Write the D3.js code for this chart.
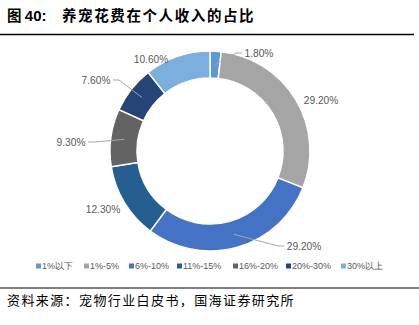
<!DOCTYPE html>
<html>
<head>
<meta charset="utf-8">
<script src="https://cdn.jsdelivr.net/npm/d3@7"></script>
<style>
  html, body { margin: 0; padding: 0; background: #fff; }
  svg { display: block; }
</style>
</head>
<body>
<svg id="chart" width="419" height="325"></svg>
<script>
// Share of personal income spent on pets
const categories = ["1%以下", "1%-5%", "6%-10%", "11%-15%", "16%-20%", "20%-30%", "30%以上"];
const shares = [1.8, 29.2, 29.2, 12.3, 9.3, 7.6, 10.6];
const valueLabels = ["1.80%", "29.20%", "29.20%", "12.30%", "9.30%", "7.60%", "10.60%"];
const colors = ["#5B9BD5", "#A5A5A5", "#4472C4", "#255E91", "#636363", "#264478", "#7CAFDD"];

// label placement relative to the ring centre, and whether a leader line is drawn
const labelOffsets = [[49, -98], [111, -51], [94, 95], [-107, 58], [-139, -9], [-114, -71], [-59, -92]];
const hasLeader = [true, false, true, false, true, true, false];

const svg = d3.select("#chart");
const W = 419;
const cx = 210, cy = 151, rOuter = 100, rInner = 73;
const labelFont = "'Liberation Sans', Arial, sans-serif";
const cjkFont = "'Noto Sans CJK SC', 'Noto Sans', sans-serif";

// title
const title = svg.append("text")
  .attr("x", 7).attr("y", 21)
  .attr("font-family", cjkFont).attr("font-size", 14.5).attr("font-weight", 700)
  .attr("fill", "#000");
title.append("tspan").text("图 ");
title.append("tspan").attr("font-family", "'Liberation Sans', Arial, sans-serif").attr("font-size", 15).text("40:");
title.append("tspan").attr("x", 62).attr("letter-spacing", 1.6).text("养宠花费在个人收入的占比");

svg.append("line").attr("x1", 0).attr("x2", 414).attr("y1", 34.5).attr("y2", 34.5)
  .attr("stroke", "#000").attr("stroke-width", 1.5);

// donut
const pie = d3.pie().sort(null).value(d => d)(shares);
const arc = d3.arc().innerRadius(rInner).outerRadius(rOuter);
const g = svg.append("g").attr("transform", `translate(${cx},${cy})`);

g.selectAll("path.slice").data(pie).join("path")
  .attr("class", "slice")
  .attr("d", arc)
  .attr("fill", (d, i) => colors[i])
  .attr("stroke", "#fff").attr("stroke-width", 1.5);

// leader lines from slice centroid towards the label
const textW = s => s.length * 5.6;
pie.forEach((d, i) => {
  if (!hasLeader[i]) return;
  const [px, py] = arc.centroid(d);
  const [lx, ly] = labelOffsets[i];
  const half = textW(valueLabels[i]) / 2;
  const right = lx > 0;
  const edge = right ? lx - half - 3 : lx + half + 3;
  const knee = right ? edge - 6 : edge + 6;
  g.append("path")
    .attr("d", d3.line()([[px, py], [knee, ly], [edge, ly]]))
    .attr("fill", "none").attr("stroke", "#A6A6A6").attr("stroke-width", 1);
});

g.selectAll("text.val").data(pie).join("text")
  .attr("class", "val")
  .attr("x", (d, i) => labelOffsets[i][0])
  .attr("y", (d, i) => labelOffsets[i][1])
  .attr("text-anchor", "middle").attr("dominant-baseline", "central")
  .attr("font-family", labelFont).attr("font-size", 10.2)
  .attr("fill", "#595959")
  .text((d, i) => valueLabels[i]);

// legend
const legendX = [36, 84, 129, 177, 233, 286, 341];
const legend = svg.append("g").attr("transform", "translate(0,266)");
categories.forEach((c, i) => {
  legend.append("rect").attr("x", legendX[i]).attr("y", -2.5).attr("width", 5).attr("height", 5)
    .attr("fill", colors[i]);
  legend.append("text").attr("x", legendX[i] + 6).attr("y", 0)
    .attr("dominant-baseline", "central")
    .attr("font-family", labelFont).attr("font-size", 9)
    .attr("fill", "#595959").text(c);
});

// source
svg.append("line").attr("x1", 0).attr("x2", W).attr("y1", 288).attr("y2", 288)
  .attr("stroke", "#000").attr("stroke-width", 1.2);
svg.append("text").attr("x", 7).attr("y", 305)
  .attr("font-family", cjkFont).attr("font-size", 13).attr("letter-spacing", 1.4)
  .attr("fill", "#000").text("资料来源：宠物行业白皮书，国海证券研究所");
</script>
</body>
</html>
